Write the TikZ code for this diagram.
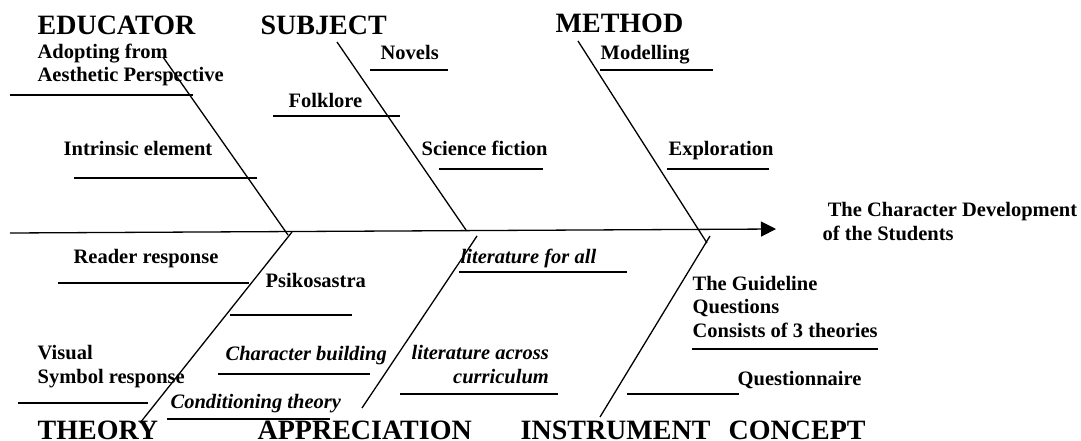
\documentclass[tikz,border=0pt]{standalone}
\usepackage{fontspec}
\setmainfont{Liberation Serif}
\usetikzlibrary{arrows.meta, calc}

\begin{document}
\begin{tikzpicture}[x=1pt, y=-1pt, line width=1.3pt,
    head/.style={anchor=base west, inner sep=0pt, font=\fontsize{28}{30}\selectfont\bfseries},
    item/.style={anchor=base west, inner sep=0pt, align=left, font=\fontsize{20.5}{23.5}\selectfont\bfseries},
    itemit/.style={item, font=\fontsize{20.5}{23.5}\selectfont\bfseries\itshape}]

    \useasboundingbox (0,0) rectangle (1081,441);

    % 1. The spine and its end points
    % (multi-line labels sit on the baseline of their last line)
    \coordinate (S0) at (10,233);
    \coordinate (S1) at (776,229);
    \draw[-{Triangle[length=15pt, width=15pt]}] (S0) -- (S1);
    \node[item] (goal) at (822,240) {\ The Character Development\\of the Students};

    % 2. Bones above the spine
    \coordinate (Etop) at (163,57);  \coordinate (Ebot) at (288,235);
    \coordinate (Stop) at (337,42);  \coordinate (Sbot) at (466,230);
    \coordinate (Mtop) at (578,41);  \coordinate (Mbot) at (707,243);
    \draw (Etop) -- (Ebot);
    \draw (Stop) -- (Sbot);
    \draw (Mtop) -- (Mbot);

    % 3. Bones below the spine
    \coordinate (Ttop) at (292,232); \coordinate (Tbot) at (140,423);
    \coordinate (Atop) at (477,236); \coordinate (Abot) at (362,408);
    \coordinate (Itop) at (710,236); \coordinate (Ibot) at (600,417);
    \draw (Ttop) -- (Tbot);
    \draw (Atop) -- (Abot);
    \draw (Itop) -- (Ibot);

    % 4. Category names
    \node[head] (educator) at (37,35) {EDUCATOR};
    \node[head] (subject) at (260,35) {SUBJECT};
    \node[head] (method) at (555,33) {METHOD};
    \node[head] (theory) at (37,439) {THEORY};
    \node[head] (appreciation) at (257,439) {APPRECIATION};
    \node[head] (instrument) at (520,439) {INSTRUMENT};
    \node[head] (concept) at (728,439) {CONCEPT};

    % 5. Causes of EDUCATOR
    \node[item] (aesthetic) at (37,82) {Adopting from\\Aesthetic Perspective};
    \draw (10,95) -- (193,95);
    \node[item] (intrinsic) at (63,155) {Intrinsic element};
    \draw (74,178) -- (257,178);

    % 6. Causes of SUBJECT
    \node[item] (novels) at (380,60) {Novels};
    \draw (370,70) -- (448,70);
    \node[item] (folklore) at (288,108) {Folklore};
    \draw (273,116) -- (400,116);
    \node[item] (scifi) at (421,155) {Science fiction};
    \draw (439,169) -- (543,169);

    % 7. Causes of METHOD
    \node[item] (modelling) at (600,60) {Modelling};
    \draw (600,70) -- (713,70);
    \node[item] (exploration) at (668,155) {Exploration};
    \draw (667,169) -- (769,169);

    % 8. Causes of THEORY
    \node[item] (reader) at (73,263) {Reader response};
    \draw (58,283) -- (249,283);
    \node[item] (visual) at (37,383) {Visual\\Symbol response};
    \draw (18,403) -- (148,403);

    % 9. Causes of APPRECIATION
    \node[item] (psiko) at (265,287) {Psikosastra};
    \draw (230,315) -- (352,315);
    \node[itemit] (charbuild) at (225,360) {Character building};
    \draw (218,374) -- (370,374);
    \node[itemit] (conditioning) at (170,408) {Conditioning theory};
    \draw (167,419) -- (330,419);

    % 10. Causes of INSTRUMENT and CONCEPT
    \node[itemit] (litall) at (460,263) {literature for all};
    \draw (459,272) -- (627,272);
    \node[itemit, align=right] (litacross) at (411,383) {literature across\\curriculum};
    \draw (400,394) -- (558,394);
    \node[item] (guideline) at (692,337) {The Guideline\\Questions\\Consists of 3 theories};
    \draw (692,349) -- (878,349);
    \node[item] (questionnaire) at (737,385) {Questionnaire};
    \draw (627,394) -- (739,394);
\end{tikzpicture}
\end{document}
